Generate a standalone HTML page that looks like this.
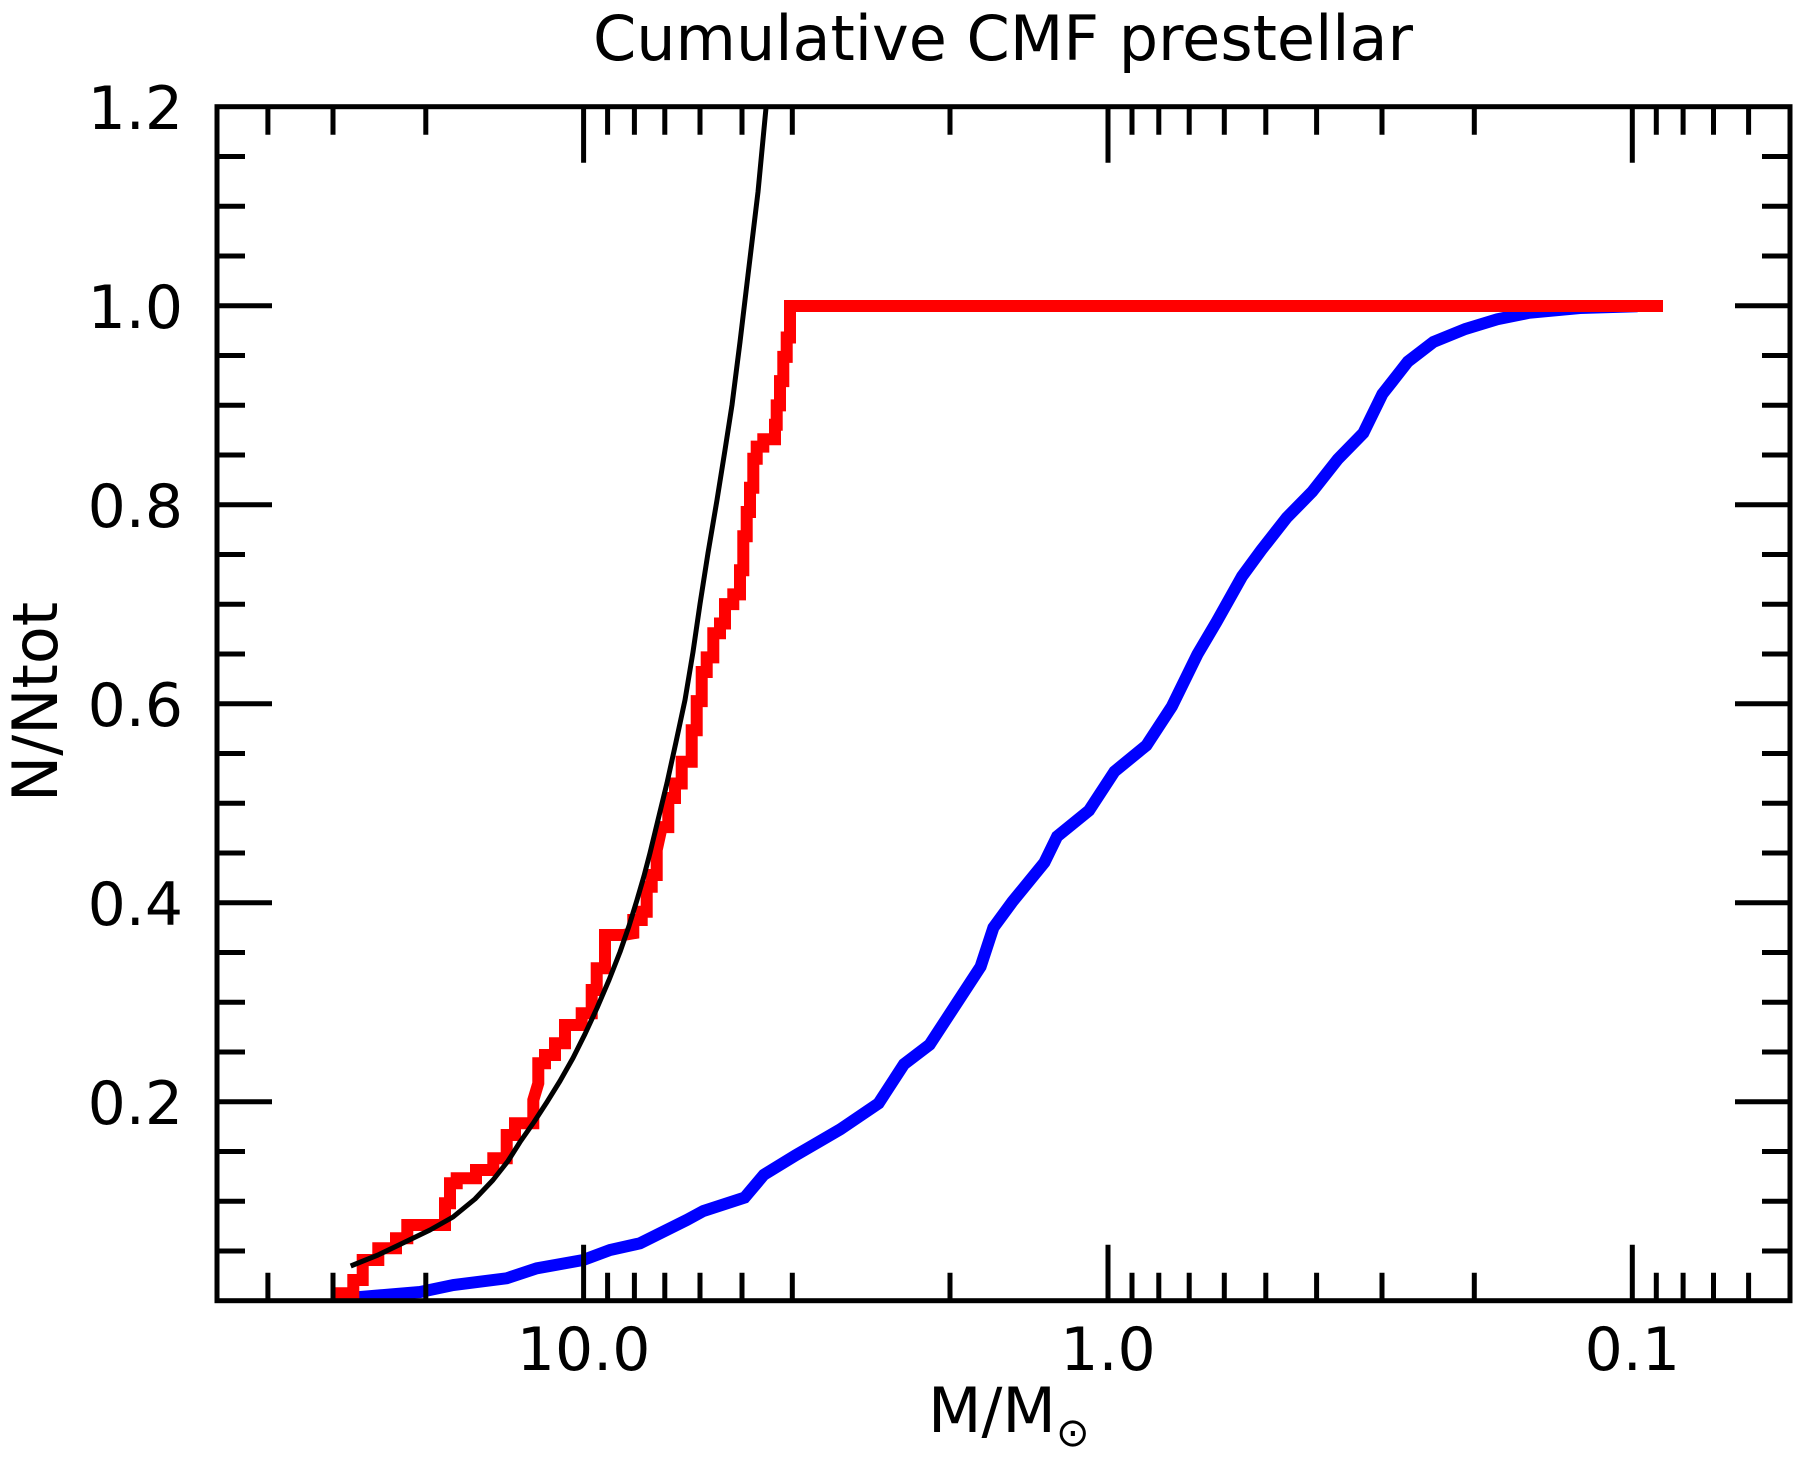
<!DOCTYPE html>
<html><head><meta charset="utf-8"><style>
html,body{margin:0;padding:0;background:#fff;}
svg{display:block;}
text{font-family:"DejaVu Sans","Liberation Sans",sans-serif;fill:#000;}
</style></head><body>
<svg width="1804" height="1461" viewBox="0 0 1804 1461" xmlns="http://www.w3.org/2000/svg">
<defs><clipPath id="c"><rect x="217" y="106.7" width="1573" height="1194"/></clipPath></defs>
<text x="1003" y="60" font-size="62" text-anchor="middle">Cumulative CMF prestellar</text>
<g clip-path="url(#c)" fill="none">
<polyline stroke="#0000ff" stroke-width="12" stroke-linejoin="miter" points="336.7,1299 420,1292 453.3,1285 506.7,1278.3 536.7,1268.3 583.3,1260 610,1250 640,1243.3 686.7,1220 703.3,1211 744.6,1197.6 763.8,1174.8 795.7,1155.3 840.3,1129.3 878.6,1103.3 904,1064.2 929.6,1044.7 955.1,1005.7 980.6,966.6 993.4,927.6 1012.5,901.6 1044.4,862.5 1057.1,836.5 1089,810.5 1114.5,771.5 1146.4,745.4 1171.9,706.4 1197.4,654.3 1216.6,621.8 1242.1,576.3 1261.2,550.2 1286.7,517.7 1312.2,491.7 1337.8,459.2 1363.3,433.1 1382.4,394.1 1407.9,361.6 1433.4,342 1465.3,329 1497.2,319.3 1529.1,312.8 1580,308 1637.5,306.3"/>
<polyline stroke="#ff0000" stroke-width="12" stroke-linejoin="miter" points="333.3,1293.3 353.3,1293.3 353.3,1280 362.7,1280 362.7,1260 378.3,1260 378.3,1248.3 396,1248.3 396,1238.3 407.3,1238.3 407.3,1225 445,1225 445,1203.3 450,1203.3 450,1183.3 456.7,1183.3 456.7,1178.3 476,1178.3 476,1170 493.3,1170 493.3,1158.3 506.7,1158.3 506.7,1135 515,1135 515,1123.3 533.3,1123.3 533.3,1100 538.3,1083.3 538.3,1063.3 545,1063.3 545,1055 555,1055 555,1043.3 565,1043.3 565,1025 581.7,1025 581.7,1013.3 591.7,1013.3 591.7,990 596.7,990 596.7,968.3 605,968.3 605,935 623.3,935 633.3,933.3 633.3,920 641.7,920 641.7,911.7 646.7,911.7 646.7,886.7 651.7,886.7 651.7,875 656.7,875 656.7,850 661.7,827.1 668.3,827.1 668.3,798 675,798 675,783.5 681.7,783.5 681.7,761.7 691.7,761.7 691.7,730.2 696.7,730.2 696.7,701.1 701.7,701.1 701.7,672 706.7,672 706.7,657.4 713.3,657.4 713.3,633.2 720,633.2 720,623.5 725,623.5 725,604.1 733.3,604.1 733.3,594.4 740,594.4 740,570.2 743.3,570.2 743.3,536.3 746.7,536.3 746.7,512 750,512 750,487.8 753.3,487.8 753.3,458.7 756.7,458.7 756.7,446.6 763.3,446.6 763.3,439.3 775,439.3 775,424.8 776.7,424.8 776.7,405.4 780,405.4 780,381.1 783.3,381.1 783.3,356.9 786.7,356.9 786.7,337.5 790,337.5 790,306 1663,306"/>
<polyline stroke="#000" stroke-width="5" stroke-linejoin="round" points="350.7,1266 378,1255 403,1243 430,1230 453,1217 475,1199 493,1180 508,1161 520,1142 534,1122 547,1102 560,1081 573,1058 585,1034 597,1008 609,980 620,952 629,926 637,900 644,876 650,853 658,820 667,783 676,742 685,700 693,652 700,604 708,553 717,500 725,450 732,405 740,342 748,275 758,192 766,108 767,100"/>
</g>
<rect x="217" y="106.7" width="1573" height="1194" fill="none" stroke="#000" stroke-width="5"/>
<g stroke="#000" stroke-width="5">
<path d="M217,1101.7h55M217,902.7h55M217,703.7h55M217,504.7h55M217,305.7h55 M1790,1101.7h-55M1790,902.7h-55M1790,703.7h-55M1790,504.7h-55M1790,305.7h-55"/>
<path d="M217,1250.95h28M217,1201.2h28M217,1151.45h28M217,1051.95h28M217,1002.2h28M217,952.45h28M217,852.95h28M217,803.2h28M217,753.45h28M217,653.95h28M217,604.2h28M217,554.45h28M217,454.95h28M217,405.2h28M217,355.45h28M217,255.95h28M217,206.2h28M217,156.45h28
M1790,1250.95h-28M1790,1201.2h-28M1790,1151.45h-28M1790,1051.95h-28M1790,1002.2h-28M1790,952.45h-28M1790,852.95h-28M1790,803.2h-28M1790,753.45h-28M1790,653.95h-28M1790,604.2h-28M1790,554.45h-28M1790,454.95h-28M1790,405.2h-28M1790,355.45h-28M1790,255.95h-28M1790,206.2h-28M1790,156.45h-28"/>
<path d="M583.6,1300.7v-56M1108,1300.7v-56M1632.3,1300.7v-56 M583.6,106.7v56M1108,106.7v56M1632.3,106.7v56"/>
<path d="M267.9,1300.7v-28M333,1300.7v-28M425.8,1300.7v-28M607.6,1300.7v-28M634.4,1300.7v-28M664.8,1300.7v-28M700,1300.7v-28M742,1300.7v-28M792.3,1300.7v-28M950,1300.7v-28M1132,1300.7v-28M1158.8,1300.7v-28M1189.2,1300.7v-28M1224.3,1300.7v-28M1265.8,1300.7v-28M1316.6,1300.7v-28M1382,1300.7v-28M1474.3,1300.7v-28M1656.3,1300.7v-28M1683.1,1300.7v-28M1713.5,1300.7v-28M1748.6,1300.7v-28
M267.9,106.7v28M333,106.7v28M425.8,106.7v28M607.6,106.7v28M634.4,106.7v28M664.8,106.7v28M700,106.7v28M742,106.7v28M792.3,106.7v28M950,106.7v28M1132,106.7v28M1158.8,106.7v28M1189.2,106.7v28M1224.3,106.7v28M1265.8,106.7v28M1316.6,106.7v28M1382,106.7v28M1474.3,106.7v28M1656.3,106.7v28M1683.1,106.7v28M1713.5,106.7v28M1748.6,106.7v28"/>
</g>
<g font-size="60" text-anchor="end">
<text x="183" y="1124">0.2</text>
<text x="183" y="925">0.4</text>
<text x="183" y="726">0.6</text>
<text x="183" y="527">0.8</text>
<text x="183" y="328">1.0</text>
<text x="183" y="129">1.2</text>
</g>
<g font-size="60" text-anchor="middle">
<text x="583.6" y="1370">10.0</text>
<text x="1108" y="1370">1.0</text>
<text x="1632.3" y="1370">0.1</text>
</g>
<text x="928" y="1432" font-size="62">M/M</text>
<text x="1056" y="1446" font-size="40">⊙</text>
<text transform="translate(57,702) rotate(-90)" font-size="62" text-anchor="middle">N/Ntot</text>
</svg>
</body></html>
